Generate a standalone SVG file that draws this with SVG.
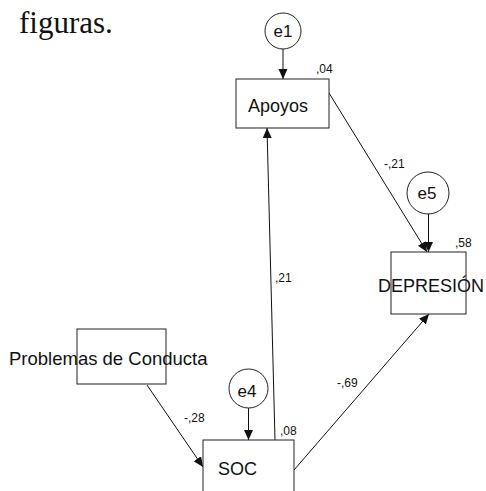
<svg xmlns="http://www.w3.org/2000/svg" width="486" height="491" viewBox="0 0 486 491">
  <style>
    .box { fill: #fff; stroke: #222; stroke-width: 1; }
    .err { fill: #fff; stroke: #222; stroke-width: 1; }
    .lbl { font-family: "Liberation Sans", Arial, sans-serif; font-size: 18px; fill: #111; }
    .elbl { font-family: "Liberation Sans", Arial, sans-serif; font-size: 17px; fill: #111; text-anchor: middle; }
    .coef { font-family: "Liberation Sans", Arial, sans-serif; font-size: 12px; fill: #111; }
    .path { stroke: #111; stroke-width: 1; fill: none; marker-end: url(#arrow); }
  </style>
  <defs>
    <marker id="arrow" markerUnits="userSpaceOnUse" markerWidth="12" markerHeight="10" refX="10" refY="4.5" orient="auto">
      <path d="M0,0 L10,4.5 L0,9 Z" fill="#111"/>
    </marker>
  </defs>

  <rect width="486" height="491" fill="#fff"/>

  <text x="19" y="33" font-family="Liberation Serif, 'Times New Roman', serif" font-size="31" fill="#111">figuras.</text>

  <!-- paths between variables -->
  <g id="connectors">
    <line class="path" x1="283" y1="49" x2="283" y2="79"/>
    <line class="path" x1="248.5" y1="408" x2="248.5" y2="440"/>
    <line class="path" x1="428.5" y1="214" x2="428.5" y2="252"/>
    <line class="path" x1="329" y1="93" x2="427" y2="252"/>
    <line class="path" x1="147" y1="385" x2="203" y2="467"/>
    <line class="path" x1="275" y1="440" x2="267" y2="128"/>
    <line class="path" x1="294" y1="470" x2="429" y2="314"/>
    <text class="coef" x="384" y="168">-,21</text>
    <text class="coef" x="275" y="282">,21</text>
    <text class="coef" x="184" y="422">-,28</text>
    <text class="coef" x="337" y="387">-,69</text>
  </g>

  <g id="e1">
    <circle class="err" cx="283" cy="31" r="18"/>
    <text class="elbl" x="283" y="37">e1</text>
  </g>

  <g id="apoyos">
    <rect class="box" x="236" y="79" width="93" height="49"/>
    <text class="lbl" x="248" y="112">Apoyos</text>
    <text class="coef" x="316" y="73">,04</text>
  </g>

  <g id="e5">
    <circle class="err" cx="428" cy="193" r="21"/>
    <text class="elbl" x="427" y="199">e5</text>
  </g>

  <g id="depresion">
    <rect class="box" x="391" y="252" width="75" height="62"/>
    <text class="lbl" x="378" y="292">DEPRESIÓN</text>
    <text class="coef" x="455" y="247">,58</text>
  </g>

  <g id="problemas">
    <rect class="box" x="77" y="329" width="89" height="55" style="fill:none"/>
    <text class="lbl" x="9" y="365" style="font-size:18.5px">Problemas de Conducta</text>
  </g>

  <g id="e4">
    <circle class="err" cx="248.5" cy="388.5" r="19.5"/>
    <text class="elbl" x="247" y="397">e4</text>
  </g>

  <g id="soc">
    <rect class="box" x="203" y="440" width="91" height="60"/>
    <text class="lbl" x="218" y="475">SOC</text>
    <text class="coef" x="280" y="435">,08</text>
  </g>
</svg>
